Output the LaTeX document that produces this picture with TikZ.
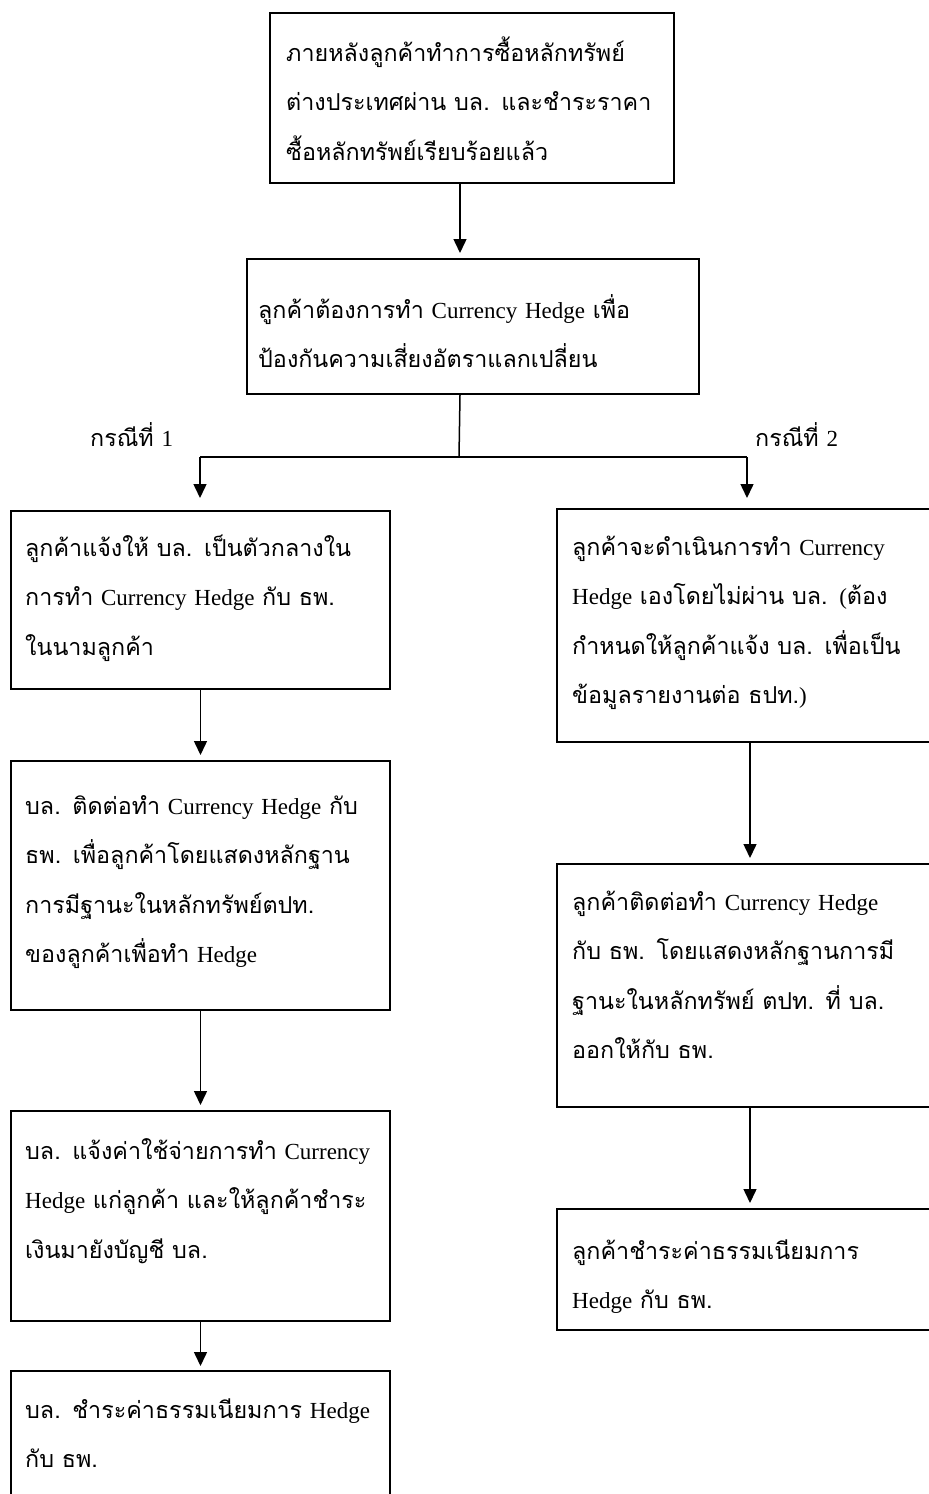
\documentclass[tikz,border=0pt]{standalone}
\usepackage{fontspec}
\setmainfont[Script=Thai]{Loma}
\newfontfamily\lat{Liberation Serif}
\usetikzlibrary{arrows.meta}
\newcommand{\thaisize}{\fontsize{23.3}{49.5}\selectfont}
\newcommand{\E}[1]{{\lat\fontsize{23}{49.5}\selectfont #1}}
\begin{document}
\begin{tikzpicture}[x=1pt,y=-1pt,
  box/.style={draw, line width=2pt, rectangle, inner sep=0pt, anchor=north west},
  txt/.style={anchor=base west, inner sep=0pt, align=left, text width=600pt, font=\thaisize},
  arr/.style={line width=1.5pt, -{Triangle[width=13pt,length=14pt]}},
  ln/.style={line width=1.5pt}]
\useasboundingbox (0,0) rectangle (929,1494);
\clip (0,0) rectangle (929,1494);
\fill[white] (0,0) rectangle (929,1494);

% boxes
\node[box, minimum width=404pt, minimum height=170pt] (top) at (269,12) {};
\node[box, minimum width=452pt, minimum height=135pt] (b2) at (246,258) {};
\node[box, minimum width=379pt, minimum height=178pt] (L1) at (10,510) {};
\node[box, minimum width=379pt, minimum height=249pt] (L2) at (10,760) {};
\node[box, minimum width=379pt, minimum height=210pt] (L3) at (10,1110) {};
\node[box, minimum width=379pt, minimum height=240pt] (L4) at (10,1370) {};
\node[box, minimum width=450pt, minimum height=233pt] (R1) at (556,508) {};
\node[box, minimum width=450pt, minimum height=243pt] (R2) at (556,863) {};
\node[box, minimum width=450pt, minimum height=121pt] (R3) at (556,1208) {};

% texts
\node[txt] (ttop) at (286,61) {ภายหลังลูกค้าทำการซื้อหลักทรัพย์\\ต่างประเทศผ่าน บล. และชำระราคา\\ซื้อหลักทรัพย์เรียบร้อยแล้ว};
\node[txt] (tb2) at (258,318) {ลูกค้าต้องการทำ \E{Currency Hedge} เพื่อ\\ป้องกันความเสี่ยงอัตราแลกเปลี่ยน};
\node[txt] (tL1) at (25,556) {ลูกค้าแจ้งให้ บล. เป็นตัวกลางใน\\การทำ \E{Currency Hedge} กับ ธพ.\\ในนามลูกค้า};
\node[txt] (tL2) at (25,814) {บล. ติดต่อทำ \E{Currency Hedge} กับ\\ธพ. เพื่อลูกค้าโดยแสดงหลักฐาน\\การมีฐานะในหลักทรัพย์ตปท.\\ของลูกค้าเพื่อทำ \E{Hedge}};
\node[txt] (tL3) at (25,1159) {บล. แจ้งค่าใช้จ่ายการทำ \E{Currency}\\\E{Hedge} แก่ลูกค้า และให้ลูกค้าชำระ\\เงินมายังบัญชี บล.};
\node[txt] (tL4) at (25,1418) {บล. ชำระค่าธรรมเนียมการ \E{Hedge}\\กับ ธพ.};
\node[txt] (tR1) at (572,555) {ลูกค้าจะดำเนินการทำ \E{Currency}\\\E{Hedge} เองโดยไม่ผ่าน บล. \E{(}ต้อง\\กำหนดให้ลูกค้าแจ้ง บล. เพื่อเป็น\\ข้อมูลรายงานต่อ ธปท.\E{)}};
\node[txt] (tR2) at (572,910) {ลูกค้าติดต่อทำ \E{Currency Hedge}\\กับ ธพ. โดยแสดงหลักฐานการมี\\ฐานะในหลักทรัพย์ ตปท. ที่ บล.\\ออกให้กับ ธพ.};
\node[txt] (tR3) at (572,1259) {ลูกค้าชำระค่าธรรมเนียมการ\\\E{Hedge} กับ ธพ.};

% case labels
\node[txt] (c1) at (90,446) {กรณีที่ \E{1}};
\node[txt] (c2) at (755,446) {กรณีที่ \E{2}};

% connectors
\coordinate (j) at (459,457);
\coordinate (jl) at (200,457);
\coordinate (jr) at (747,457);
\draw[arr, shorten >=5pt] ([xshift=-12pt]top.south) -- ([xshift=-12pt]top.south |- b2.north);
\draw[ln] ([xshift=-13pt]b2.south) -- (j);
\draw[ln] (jl) -- (jr);
\draw[arr, shorten >=12pt] (jl) -- (jl |- L1.north);
\draw[arr, shorten >=10pt] (jr) -- (jr |- R1.north);
\draw[arr, shorten >=5pt] (L1.south) -- (L2.north);
\draw[arr, shorten >=5pt] (L2.south) -- (L3.north);
\draw[arr, shorten >=4pt] (L3.south) -- (L4.north);
\coordinate (rx) at (750,0);
\draw[arr, shorten >=5pt] (rx |- R1.south) -- (rx |- R2.north);
\draw[arr, shorten >=5pt] (rx |- R2.south) -- (rx |- R3.north);
\end{tikzpicture}
\end{document}
